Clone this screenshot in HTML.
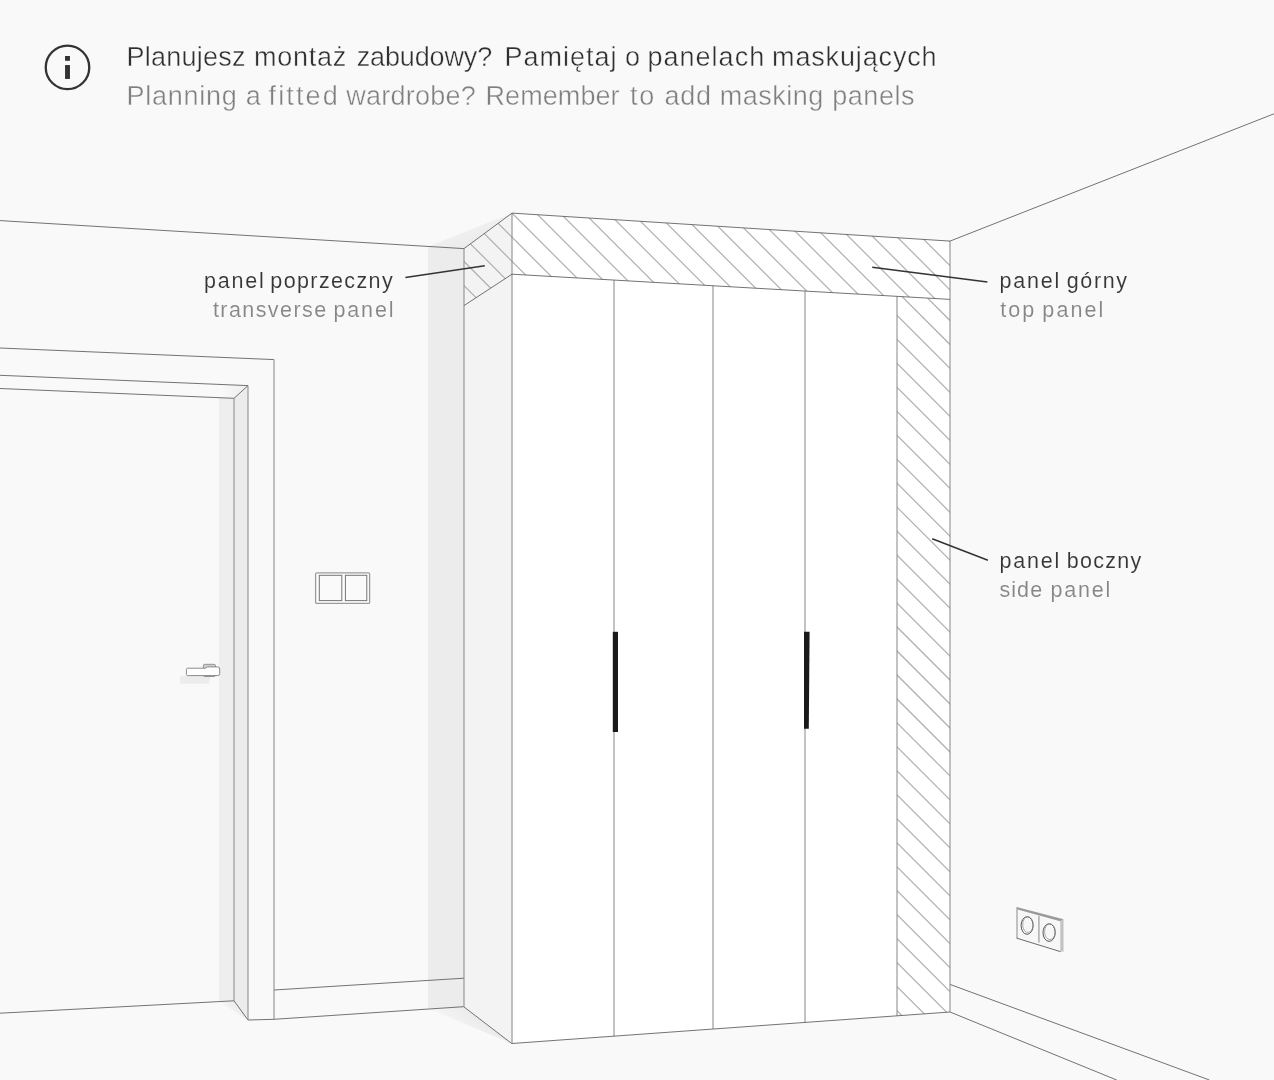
<!DOCTYPE html>
<html lang="pl">
<head>
<meta charset="utf-8">
<title>Panele maskujące</title>
<style>
html,body{margin:0;padding:0;background:#f9f9f9;}
body{width:1274px;height:1080px;overflow:hidden;position:relative;font-family:"Liberation Sans",sans-serif;}
svg{position:absolute;left:0;top:0;display:block}
svg.tx{will-change:transform;transform:translateZ(0)}
text{font-family:"Liberation Sans",sans-serif;}
.t1{font-size:27px;fill:#2f2f2f;stroke:#f9f9f9;stroke-width:.4px}
.t2{font-size:27px;fill:#808080;stroke:#f9f9f9;stroke-width:.4px}
.l1{font-size:21.5px;fill:#363636;stroke:#f9f9f9;stroke-width:.1px}
.l2{font-size:21.5px;fill:#868686;stroke:#f9f9f9;stroke-width:.1px}
</style>
</head>
<body>
<svg width="1274" height="1080" viewBox="0 0 1274 1080">
<defs>
<clipPath id="cTop"><polygon points="464,248.6 512,213.1 950,241.1 950,299.4 512,274.2 464,305.6"/></clipPath>
<clipPath id="cSide"><polygon points="897,296.4 950,299.4 950,1012 897,1016"/></clipPath>
<linearGradient id="gShTop" gradientUnits="userSpaceOnUse" x1="466" y1="250" x2="450" y2="210">
<stop offset="0" stop-color="#ebebeb"/><stop offset="0.5" stop-color="#f0f0f0"/><stop offset="1" stop-color="#f9f9f9"/>
</linearGradient>
<linearGradient id="gShFloor" gradientUnits="userSpaceOnUse" x1="463.7" y1="1006.7" x2="446" y2="1030">
<stop offset="0" stop-color="#ebebeb"/><stop offset="0.6" stop-color="#f3f3f3"/><stop offset="1" stop-color="#f9f9f9"/>
</linearGradient>
<linearGradient id="gShDoorF" gradientUnits="userSpaceOnUse" x1="240" y1="1005" x2="224" y2="1016">
<stop offset="0" stop-color="#ebebeb"/><stop offset="1" stop-color="#f9f9f9"/>
</linearGradient>
<linearGradient id="gRevTop" gradientUnits="userSpaceOnUse" x1="241" y1="392" x2="222" y2="390">
<stop offset="0" stop-color="#f0f0f0"/><stop offset="1" stop-color="#f9f9f9"/>
</linearGradient>
</defs>
<rect width="1274" height="1080" fill="#f9f9f9"/>

<!-- shadows -->
<polygon points="428,246.4 512,213.1 464,248.6" fill="url(#gShTop)"/>
<rect x="428" y="246.4" width="36" height="762" fill="#ececec"/>
<polygon points="428,1008.4 463.7,1006.7 511.7,1043.5" fill="url(#gShFloor)"/>
<polygon points="219,397.8 234,398.4 234,1000.8 219,1001.6" fill="#eeeeee"/>
<polygon points="219,1001.6 234,1000.8 248,1020" fill="url(#gShDoorF)"/>
<polygon points="234,398.3 248,385.6 248,1020 234,1000.8" fill="#ececec"/>
<polygon points="234,398.3 248,385.6 222,384.5 218,397.6" fill="url(#gRevTop)"/>

<!-- room lines -->
<g fill="none" stroke="#636363" stroke-width="0.9">
<path d="M0 220.6L464 248.6"/>
<path d="M950 241.1L1274 113.8"/>
<path d="M0 1013.2L234 1000.8L248 1020L274 1019.3L463.7 1006.7"/>
<path d="M274 990L464 978.2"/>
<path d="M950 984.4L1209.4 1080"/>
<path d="M950 1012L1116.7 1080"/>
</g>

<!-- door frame -->
<g fill="none" stroke="#636363" stroke-width="0.9">
<path d="M0 348L274 359.6"/>
<path d="M0 375.3L248 385.6"/>
<path d="M0 388.5L234 398.3L248 385.6"/>
</g>
<g fill="none" stroke="#868686" stroke-width="1">
<path d="M274 359.6V1019.3"/>
<path d="M248 385.6V1020"/>
<path d="M234 398.3V1000.8"/>
</g>

<!-- door handle -->
<polygon points="180.1,676.1 210.9,676.1 208.7,683.8 180.1,683.8" fill="#ececec"/>
<rect x="203.3" y="664.3" width="12.2" height="12.2" rx="1.6" fill="#cfcfcf" stroke="#8a8a8a" stroke-width="0.9"/>
<path d="M187.6 668.2H205.2Q206.4 668.2 206.4 667.5Q206.4 666.9 207.6 666.9H217.6Q219.7 666.9 219.7 669V673.6Q219.7 675.6 217.7 675.6H187.6Q186.4 675.6 186.4 674.4V669.4Q186.4 668.2 187.6 668.2Z" fill="#ffffff" stroke="#8a8a8a" stroke-width="1"/>

<!-- light switch -->
<rect x="315.6" y="572.8" width="54" height="30.6" rx="1.2" fill="#fdfdfd" stroke="#9c9c9c" stroke-width="1.3"/>
<rect x="319.3" y="575.3" width="22.5" height="25.3" fill="#fafafa" stroke="#757575" stroke-width="1"/>
<rect x="345.4" y="575.3" width="21.4" height="25.3" fill="#fafafa" stroke="#757575" stroke-width="1"/>

<!-- wardrobe -->
<polygon points="464,248.6 512,213.1 512,1043.5 464,1006.7" fill="#f3f3f3"/>
<polygon points="512,213.1 950,241.1 950,1012 512,1043.5" fill="#ffffff"/>
<path d="M106.2 0L1306.2 1200M130.3 0L1330.3 1200M154.4 0L1354.4 1200M178.4 0L1378.5 1200M202.5 0L1402.5 1200M226.6 0L1426.6 1200M250.7 0L1450.7 1200M274.8 0L1474.8 1200M298.9 0L1498.9 1200M323.0 0L1523.0 1200M347.1 0L1547.1 1200M371.2 0L1571.2 1200M395.3 0L1595.3 1200M419.3 0L1619.3 1200M443.4 0L1643.4 1200M467.5 0L1667.5 1200M491.6 0L1691.6 1200M515.7 0L1715.7 1200M539.8 0L1739.8 1200M563.9 0L1763.9 1200M588.0 0L1788.0 1200M612.1 0L1812.1 1200M636.2 0L1836.2 1200M660.2 0L1860.2 1200M684.3 0L1884.3 1200M708.4 0L1908.4 1200M732.5 0L1932.5 1200M756.6 0L1956.6 1200" clip-path="url(#cTop)" stroke="#b2b2b2" stroke-width="1.25" fill="none"/>
<path d="M-185.5 0L1014.5 1200M-161.5 0L1038.5 1200M-137.5 0L1062.5 1200M-113.6 0L1086.4 1200M-89.6 0L1110.4 1200M-65.6 0L1134.4 1200M-41.7 0L1158.3 1200M-17.7 0L1182.3 1200M6.3 0L1206.3 1200M30.2 0L1230.2 1200M54.2 0L1254.2 1200M78.2 0L1278.2 1200M102.2 0L1302.2 1200M126.1 0L1326.1 1200M150.1 0L1350.1 1200M174.1 0L1374.1 1200M198.0 0L1398.0 1200M222.0 0L1422.0 1200M246.0 0L1446.0 1200M270.0 0L1470.0 1200M293.9 0L1493.9 1200M317.9 0L1517.9 1200M341.9 0L1541.9 1200M365.8 0L1565.8 1200M389.8 0L1589.8 1200M413.8 0L1613.8 1200M437.7 0L1637.7 1200M461.7 0L1661.7 1200M485.7 0L1685.7 1200M509.6 0L1709.7 1200M533.6 0L1733.6 1200M557.6 0L1757.6 1200M581.6 0L1781.6 1200M605.5 0L1805.5 1200M629.5 0L1829.5 1200M653.5 0L1853.5 1200M677.4 0L1877.4 1200M701.4 0L1901.4 1200" clip-path="url(#cSide)" stroke="#b2b2b2" stroke-width="1.25" fill="none"/>
<g fill="none" stroke="#868686" stroke-width="1">
<path d="M464 248.6V1006.7"/>
<path d="M512 213.1V1043.5"/>
<path d="M614 280V1036.2"/>
<path d="M713 285.7V1029"/>
<path d="M805 291V1022.4"/>
<path d="M897 296.4V1016"/>
<path d="M950 241.1V1012"/>
</g>
<g fill="none" stroke="#636363" stroke-width="0.9">
<path d="M464 248.6L512 213.1L950 241.1"/>
<path d="M464 305.6L512 274.2L950 299.4"/>
<path d="M463.7 1006.7L511.7 1043.5L950 1012"/>
</g>
<!-- handles -->
<rect x="612.8" y="631.8" width="5.2" height="100.2" fill="#1a1a1a"/>
<polygon points="804,631.8 809.6,631.8 808.8,728.8 804,728.8" fill="#1a1a1a"/>

<!-- socket -->
<polygon points="1016.5,907 1063.5,919.3 1063.5,951.7 1016.5,938.1" fill="#f7f7f7"/>
<polygon points="1016.5,907 1063.5,919.3 1060.3,921.2 1017.6,909.6" fill="#9a9a9a"/>
<polygon points="1060.3,921 1063.5,919.3 1063.5,951.7 1060.3,951.2" fill="#c2c2c2"/>
<g fill="none" stroke="#7a7a7a" stroke-width="1">
<path d="M1017 907.3V938.1" stroke="#a4a4a4" stroke-width="1.3"/>
<path d="M1016.5 938.1L1060.6 951.7" stroke="#6a6a6a"/>
<path d="M1038.9 916.1V942.6" stroke="#b0b0b0" stroke-width="1.6"/>
<ellipse cx="1027.1" cy="925.5" rx="6" ry="8.8" stroke="#555"/>
<ellipse cx="1027.9" cy="924.6" rx="5.2" ry="7.9" stroke="#888" stroke-width="0.7"/>
<ellipse cx="1049.1" cy="932.6" rx="6.1" ry="8.8" stroke="#555"/>
<ellipse cx="1049.9" cy="931.7" rx="5.3" ry="7.9" stroke="#888" stroke-width="0.7"/>
</g>

<!-- leaders -->
<g fill="none" stroke="#333" stroke-width="1.5" stroke-linecap="butt">
<path d="M405.4 277.6L484.8 265.8"/>
<path d="M872.2 267.2L987.4 281.9"/>
<path d="M932.2 538.8L987.9 560.2"/>
</g>

<!-- info icon -->
<circle cx="67.5" cy="67.4" r="21.75" fill="none" stroke="#333" stroke-width="2.3"/>
<rect x="65.05" y="56" width="4.9" height="4.8" fill="#333"/>
<rect x="65.05" y="65.05" width="4.9" height="13.9" fill="#333"/>

</svg>
<!-- texts -->
<svg class="tx" width="1274" height="1080" viewBox="0 0 1274 1080">
<text class="t1" y="66.4"><tspan x="126.50" textLength="118.88" lengthAdjust="spacing">Planujesz</tspan> <tspan x="254.06" textLength="92.22" lengthAdjust="spacing">montaż</tspan> <tspan x="356.64" textLength="135.62" lengthAdjust="spacing">zabudowy?</tspan> <tspan x="504.62" textLength="111.78" lengthAdjust="spacing">Pamiętaj</tspan> <tspan x="625.08">o</tspan> <tspan x="647.40" textLength="116.78" lengthAdjust="spacing">panelach</tspan> <tspan x="772.06" textLength="164.56" lengthAdjust="spacing">maskujących</tspan></text>
<text class="t2" y="105.3"><tspan x="126.50" textLength="110.24" lengthAdjust="spacing">Planning</tspan> <tspan x="245.64">a</tspan> <tspan x="268.56" textLength="69.18" lengthAdjust="spacing">fitted</tspan> <tspan x="346.22" textLength="129.48" lengthAdjust="spacing">wardrobe?</tspan> <tspan x="485.50" textLength="134.08" lengthAdjust="spacing">Remember</tspan> <tspan x="630.10" textLength="24.18" lengthAdjust="spacing">to</tspan> <tspan x="664.42" textLength="46.64" lengthAdjust="spacing">add</tspan> <tspan x="719.74" textLength="103.44" lengthAdjust="spacing">masking</tspan> <tspan x="832.28" textLength="82.20" lengthAdjust="spacing">panels</tspan></text>
<text class="l1" y="287.8"><tspan x="203.92" textLength="59.86" lengthAdjust="spacing">panel</tspan> <tspan x="270.36" textLength="122.28" lengthAdjust="spacing">poprzeczny</tspan></text>
<text class="l2" y="316.8"><tspan x="212.94" textLength="113.16" lengthAdjust="spacing">transverse</tspan> <tspan x="333.58" textLength="59.86" lengthAdjust="spacing">panel</tspan></text>
<text class="l1" y="288.2"><tspan x="999.48" textLength="59.86" lengthAdjust="spacing">panel</tspan> <tspan x="1066.70" textLength="60.38" lengthAdjust="spacing">górny</tspan></text>
<text class="l2" y="317.3"><tspan x="1000.28" textLength="33.92" lengthAdjust="spacing">top</tspan> <tspan x="1042.36" textLength="60.98" lengthAdjust="spacing">panel</tspan></text>
<text class="l1" y="568.2"><tspan x="999.48" textLength="59.86" lengthAdjust="spacing">panel</tspan> <tspan x="1066.70" textLength="74.60" lengthAdjust="spacing">boczny</tspan></text>
<text class="l2" y="597.4"><tspan x="999.48" textLength="42.62" lengthAdjust="spacing">side</tspan> <tspan x="1050.58" textLength="59.64" lengthAdjust="spacing">panel</tspan></text>
</svg>
</body>
</html>
